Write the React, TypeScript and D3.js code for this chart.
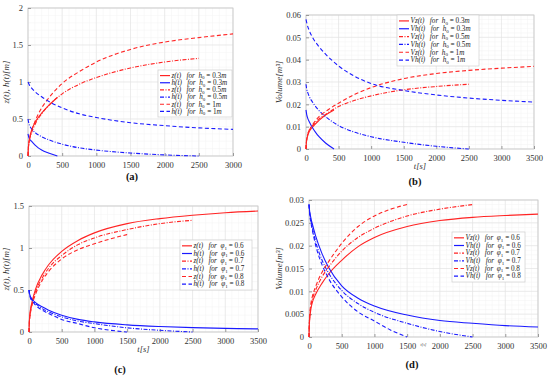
import React, { useRef, useEffect } from "react";
import * as d3 from "d3";

const RED = "#ff2424";
const BLUE = "#1a1aff";

// panel (a): heights vs time for three initial heights
const aZ03t = [0, 5, 15, 30, 50, 100, 150, 200, 300, 430];
const aZ03v = [0, 0.1, 0.19, 0.27, 0.34, 0.45, 0.52, 0.58, 0.68, 0.79];
const aH03t = [0, 10, 30, 50, 100, 150, 200, 300, 430];
const aH03v = [0.3, 0.26, 0.22, 0.2, 0.15, 0.11, 0.08, 0.04, 0];
const aZ05t = [0, 5, 15, 30, 50, 100, 200, 300, 500, 750, 1000, 1500, 2000, 2500];
const aZ05v = [0, 0.1, 0.18, 0.25, 0.31, 0.42, 0.57, 0.68, 0.84, 0.97, 1.06, 1.19, 1.27, 1.32];
const aH05t = [0, 10, 30, 50, 100, 200, 300, 500, 750, 1000, 1500, 2000, 2500];
const aH05v = [0.5, 0.45, 0.4, 0.37, 0.32, 0.26, 0.22, 0.16, 0.11, 0.08, 0.04, 0.015, 0];
const aZ1t = [0, 5, 15, 30, 50, 100, 200, 300, 500, 750, 1000, 1500, 2000, 2500, 3000];
const aZ1v = [0, 0.1, 0.19, 0.26, 0.33, 0.46, 0.65, 0.78, 0.98, 1.14, 1.27, 1.44, 1.54, 1.6, 1.65];
const aH1t = [0, 20, 50, 100, 200, 300, 500, 750, 1000, 1500, 2000, 2500, 3000];
const aH1v = [1.0, 0.96, 0.92, 0.87, 0.8, 0.74, 0.65, 0.57, 0.52, 0.45, 0.41, 0.38, 0.36];

// panel (b): volumes vs time for three initial heights
const bZ03t = [0, 5, 15, 30, 50, 100, 200, 300, 430];
const bZ03v = [0, 0.0025, 0.0045, 0.0063, 0.0078, 0.0098, 0.0128, 0.0152, 0.0175];
const bH03t = [0, 10, 30, 50, 100, 150, 200, 300, 430];
const bH03v = [0.0175, 0.0155, 0.0135, 0.0122, 0.0095, 0.0073, 0.0055, 0.0027, 0];
const bZ05t = [0, 5, 15, 30, 50, 100, 200, 300, 500, 750, 1000, 1500, 2000, 2500];
const bZ05v = [0, 0.003, 0.005, 0.007, 0.0085, 0.0105, 0.0135, 0.0155, 0.019, 0.0218, 0.0238, 0.0265, 0.028, 0.029];
const bH05t = [0, 10, 30, 50, 100, 200, 300, 500, 750, 1000, 1500, 2000, 2500];
const bH05v = [0.029, 0.027, 0.025, 0.0235, 0.021, 0.0172, 0.0145, 0.0105, 0.0075, 0.0055, 0.003, 0.0012, 0];
const bZ1t = [0, 5, 15, 30, 50, 100, 200, 300, 500, 750, 1000, 1500, 2000, 2500, 3000, 3500];
const bZ1v = [0, 0.003, 0.005, 0.0068, 0.0083, 0.0108, 0.0145, 0.0168, 0.0205, 0.0245, 0.0275, 0.0315, 0.0338, 0.0352, 0.0362, 0.037];
const bH1t = [0, 20, 50, 100, 200, 300, 500, 750, 1000, 1500, 2000, 2500, 3000, 3500];
const bH1v = [0.058, 0.0555, 0.053, 0.05, 0.0458, 0.0425, 0.0372, 0.0325, 0.0293, 0.0262, 0.0242, 0.0228, 0.0218, 0.021];

// panel (c): heights vs time for three values of phi1
const cZ6t = [0, 5, 15, 30, 50, 100, 200, 300, 500, 750, 1000, 1500, 2000, 2500, 3000, 3500];
const cZ6v = [0, 0.12, 0.22, 0.3, 0.37, 0.51, 0.68, 0.8, 0.96, 1.09, 1.18, 1.29, 1.35, 1.39, 1.42, 1.44];
const cH6t = [0, 10, 30, 50, 100, 200, 300, 500, 750, 1000, 1500, 2000, 2500, 3000, 3500];
const cH6v = [0.5, 0.45, 0.41, 0.39, 0.35, 0.3, 0.26, 0.2, 0.15, 0.12, 0.085, 0.065, 0.052, 0.043, 0.037];
const cZ7t = [0, 5, 15, 30, 50, 100, 200, 300, 500, 750, 1000, 1500, 2000, 2500];
const cZ7v = [0, 0.11, 0.2, 0.28, 0.35, 0.48, 0.64, 0.76, 0.91, 1.04, 1.12, 1.22, 1.29, 1.33];
const cH7t = [0, 10, 30, 50, 100, 200, 300, 500, 750, 1000, 1500, 2000, 2500];
const cH7v = [0.5, 0.44, 0.4, 0.38, 0.34, 0.28, 0.24, 0.18, 0.13, 0.1, 0.05, 0.02, 0];
const cZ8t = [0, 5, 15, 30, 50, 100, 200, 300, 500, 750, 1000, 1250, 1500];
const cZ8v = [0, 0.1, 0.19, 0.26, 0.33, 0.45, 0.61, 0.72, 0.87, 0.98, 1.05, 1.11, 1.16];
const cH8t = [0, 10, 30, 50, 100, 200, 300, 500, 750, 1000, 1250, 1500];
const cH8v = [0.5, 0.44, 0.39, 0.37, 0.32, 0.26, 0.22, 0.15, 0.1, 0.05, 0.02, 0];

// panel (d): volumes vs time for three values of phi1
const dZ6t = [0, 5, 15, 30, 50, 100, 200, 300, 500, 750, 1000, 1500, 2000, 2500, 3000, 3500];
const dZ6v = [0, 0.0025, 0.0045, 0.0062, 0.0075, 0.0093, 0.0118, 0.0138, 0.0168, 0.0198, 0.0218, 0.0242, 0.0255, 0.0262, 0.0266, 0.0269];
const dH6t = [0, 10, 30, 50, 100, 200, 300, 500, 750, 1000, 1500, 2000, 2500, 3000, 3500];
const dH6v = [0.029, 0.0275, 0.026, 0.0248, 0.0222, 0.0182, 0.0152, 0.0112, 0.0085, 0.0068, 0.0048, 0.0036, 0.003, 0.0025, 0.0022];
const dZ7t = [0, 5, 15, 30, 50, 100, 200, 300, 500, 750, 1000, 1500, 2000, 2500];
const dZ7v = [0, 0.0028, 0.005, 0.0068, 0.0082, 0.0102, 0.0132, 0.0153, 0.0188, 0.0218, 0.0238, 0.0265, 0.028, 0.029];
const dH7t = [0, 10, 30, 50, 100, 200, 300, 500, 750, 1000, 1500, 2000, 2500];
const dH7v = [0.029, 0.0272, 0.0255, 0.024, 0.021, 0.0168, 0.014, 0.0102, 0.0073, 0.0054, 0.003, 0.0012, 0];
const dZ8t = [0, 5, 15, 30, 50, 100, 200, 300, 500, 750, 1000, 1250, 1500];
const dZ8v = [0, 0.003, 0.0055, 0.0074, 0.0088, 0.011, 0.0142, 0.0165, 0.0205, 0.0242, 0.0265, 0.028, 0.029];
const dH8t = [0, 10, 30, 50, 100, 200, 300, 500, 750, 1000, 1250, 1500];
const dH8v = [0.029, 0.027, 0.025, 0.0235, 0.0202, 0.0158, 0.0128, 0.0088, 0.0055, 0.0035, 0.0015, 0];

const xTicks3000 = [0, 500, 1000, 1500, 2000, 2500, 3000];
const xTicks3500 = [0, 500, 1000, 1500, 2000, 2500, 3000, 3500];
const yTicksA = [0, 0.5, 1, 1.5, 2];
const yTicksB = [0, 0.01, 0.02, 0.03, 0.04, 0.05, 0.06];
const yTicksC = [0, 0.5, 1, 1.5];
const yTicksD = [0, 0.005, 0.01, 0.015, 0.02, 0.025, 0.03];

const hLabels = ["0.3", "0.5", "1"];
const phiLabels = ["0.6", "0.7", "0.8"];

const SOLID = "";
const DASHDOT = "4,1.5,1,1.5";
const DASHED = "4,2.5";
const NB = "\u00a0";

type Series = { t: number[]; v: number[]; color: string; dash: string; name: string; sym: string; sub: string; val: string; unit: string };

function makeSeries(
  list: [number[], number[]][],
  names: string[],
  sym: string,
  sub: string,
  vals: string[],
  unit: string
): Series[] {
  const dashes = [SOLID, SOLID, DASHDOT, DASHDOT, DASHED, DASHED];
  return list.map((p, i) => ({
    t: p[0],
    v: p[1],
    color: i % 2 === 0 ? RED : BLUE,
    dash: dashes[i],
    name: names[i % 2],
    sym,
    sub,
    val: vals[Math.floor(i / 2)],
    unit,
  }));
}

const panels = [
  {
    box: [28, 8, 233, 156],
    xMax: 3000, xTicks: xTicks3000, yMax: 2, yTicks: yTicksA, xMinor: 100, yMinor: 0.1,
    yFmt: (d: number) => String(d),
    series: makeSeries([[aZ03t, aZ03v], [aH03t, aH03v], [aZ05t, aZ05v], [aH05t, aH05v], [aZ1t, aZ1v], [aH1t, aH1v]], ["z(t)", "h(t)"], "h", "0", hLabels, "m"),
    legend: [158, 70, 232, 117],
    yLabel: "z(t), h(t)[m]", yLabelX: 9, xLabel: "", caption: "(a)", capX: 132, capY: 180,
  },
  {
    box: [306, 15, 534, 149],
    xMax: 3500, xTicks: xTicks3500, yMax: 0.06, yTicks: yTicksB, xMinor: 100, yMinor: 0.002,
    yFmt: (d: number) => String(+d.toFixed(2)),
    series: makeSeries([[bZ03t, bZ03v], [bH03t, bH03v], [bZ05t, bZ05v], [bH05t, bH05v], [bZ1t, bZ1v], [bH1t, bH1v]], ["Vz(t)", "Vh(t)"], "h", "0", hLabels, "m"),
    legend: [397, 15, 479, 66],
    yLabel: "Volume[m³]", yLabelX: 282, xLabel: "t[s]", xLabelY: 169, xLabelSize: 8.5, caption: "(b)", capX: 415, capY: 185,
  },
  {
    box: [29, 206, 258, 332],
    xMax: 3500, xTicks: xTicks3500, yMax: 1.5, yTicks: yTicksC, xMinor: 100, yMinor: 0.1,
    yFmt: (d: number) => String(d),
    series: makeSeries([[cZ6t, cZ6v], [cH6t, cH6v], [cZ7t, cZ7v], [cH7t, cH7v], [cZ8t, cZ8v], [cH8t, cH8v]], ["z(t)", "h(t)"], "φ", "1", phiLabels, ""),
    legend: [180, 240, 252, 290],
    yLabel: "z(t), h(t)[m]", yLabelX: 9, xLabel: "t[s]", xLabelY: 352, xLabelSize: 8.5, caption: "(c)", capX: 120, capY: 373,
  },
  {
    box: [309, 200, 538, 337],
    xMax: 3500, xTicks: xTicks3500, yMax: 0.03, yTicks: yTicksD, xMinor: 100, yMinor: 0.001,
    yFmt: (d: number) => String(+d.toFixed(3)),
    series: makeSeries([[dZ6t, dZ6v], [dH6t, dH6v], [dZ7t, dZ7v], [dH7t, dH7v], [dZ8t, dZ8v], [dH8t, dH8v]], ["Vz(t)", "Vh(t)"], "φ", "1", phiLabels, ""),
    legend: [452, 232, 525, 282],
    yLabel: "Volume[m³]", yLabelX: 282, xLabel: "t[s]", xLabelY: 346, xLabelSize: 4, caption: "(d)", capX: 412, capY: 368,
  },
];

const SERIF = "Liberation Serif";

export default function App() {
  const ref = useRef<SVGSVGElement>(null);

  useEffect(() => {
    const svg = d3.select(ref.current);
    svg.selectAll("*").remove();

    panels.forEach((p) => {
      const [x0, y0, x1, y1] = p.box;
      const x = d3.scaleLinear().domain([0, p.xMax]).range([x0, x1]);
      const y = d3.scaleLinear().domain([0, p.yMax]).range([y1, y0]);
      const g = svg.append("g");

      // minor grid
      const xm = d3.range(0, p.xMax + 1e-9, p.xMinor);
      const ym = d3.range(0, p.yMax + 1e-9, p.yMinor);
      g.selectAll(".xm").data(xm).enter().append("line")
        .attr("x1", (d) => x(d)).attr("x2", (d) => x(d)).attr("y1", y0).attr("y2", y1)
        .attr("stroke", "#f2f2f2").attr("stroke-width", 0.5);
      g.selectAll(".ym").data(ym).enter().append("line")
        .attr("x1", x0).attr("x2", x1).attr("y1", (d) => y(d)).attr("y2", (d) => y(d))
        .attr("stroke", "#f2f2f2").attr("stroke-width", 0.5);
      // major grid
      g.selectAll(".xg").data(p.xTicks).enter().append("line")
        .attr("x1", (d) => x(d)).attr("x2", (d) => x(d)).attr("y1", y0).attr("y2", y1)
        .attr("stroke", "#e2e2e2").attr("stroke-width", 0.6);
      g.selectAll(".yg").data(p.yTicks).enter().append("line")
        .attr("x1", x0).attr("x2", x1).attr("y1", (d) => y(d)).attr("y2", (d) => y(d))
        .attr("stroke", "#e2e2e2").attr("stroke-width", 0.6);

      // axes box
      g.append("rect").attr("x", x0).attr("y", y0).attr("width", x1 - x0).attr("height", y1 - y0)
        .attr("fill", "none").attr("stroke", "#c8c8c8").attr("stroke-width", 0.8);

      // ticks
      const xa = g.append("g").attr("transform", `translate(0,${y1})`)
        .call(d3.axisBottom(x).tickValues(p.xTicks).tickSize(-3).tickPadding(6).tickFormat((d) => String(d)));
      const ya = g.append("g").attr("transform", `translate(${x0},0)`)
        .call(d3.axisLeft(y).tickValues(p.yTicks).tickSize(-3).tickPadding(5).tickFormat((d) => p.yFmt(+d)));
      [xa, ya].forEach((a) => {
        a.select(".domain").remove();
        a.selectAll("line").attr("stroke", "#999");
        a.selectAll("text").attr("font-family", SERIF).attr("font-size", 8.5).attr("fill", "#333");
      });

      // curves
      const line = d3.line<[number, number]>().x((d) => x(d[0])).y((d) => y(d[1])).curve(d3.curveMonotoneX);
      p.series.forEach((s) => {
        const pts: [number, number][] = s.t.map((t, i) => [t, s.v[i]]);
        g.append("path").attr("d", line(pts) as string)
          .attr("fill", "none").attr("stroke", s.color).attr("stroke-width", 1.1)
          .attr("stroke-dasharray", s.dash || null);
      });

      // legend
      const [lx0, ly0, lx1, ly1] = p.legend;
      g.append("rect").attr("x", lx0).attr("y", ly0).attr("width", lx1 - lx0).attr("height", ly1 - ly0)
        .attr("fill", "white").attr("stroke", "#c8c8c8").attr("stroke-width", 0.6);
      const step = (ly1 - ly0 - 4) / p.series.length;
      p.series.forEach((s, i) => {
        const cy = ly0 + 2 + step * (i + 0.5);
        g.append("line").attr("x1", lx0 + 2).attr("x2", lx0 + 12).attr("y1", cy).attr("y2", cy)
          .attr("stroke", s.color).attr("stroke-width", 1.2).attr("stroke-dasharray", s.dash || null);
        const txt = g.append("text").attr("x", lx0 + 13.5).attr("y", cy + 2.3)
          .attr("font-family", SERIF).attr("font-size", 7.2).attr("fill", "#222");
        txt.append("tspan").attr("font-style", "italic").text(`${s.name}${NB}${NB}${NB}for${NB}${NB}${s.sym}`);
        txt.append("tspan").attr("font-size", 5).attr("dy", 1.5).text(s.sub);
        txt.append("tspan").attr("dy", -1.5).text(`${NB}=${NB}${s.val}`);
        if (s.unit) txt.append("tspan").attr("font-style", "italic").text(s.unit);
      });

      // labels
      g.append("text")
        .attr("transform", `translate(${p.yLabelX},${(y0 + y1) / 2}) rotate(-90)`)
        .attr("text-anchor", "middle").attr("font-family", SERIF).attr("font-size", 9)
        .attr("font-style", "italic").attr("fill", "#333")
        .text(p.yLabel);
      if (p.xLabel) {
        g.append("text").attr("x", (x0 + x1) / 2).attr("y", p.xLabelY as number)
          .attr("text-anchor", "middle").attr("font-family", SERIF).attr("font-size", p.xLabelSize as number)
          .attr("font-style", "italic").attr("fill", "#333").text(p.xLabel);
      }
      g.append("text").attr("x", p.capX).attr("y", p.capY).attr("text-anchor", "middle")
        .attr("font-family", SERIF).attr("font-size", 10.5).attr("font-weight", "bold").attr("fill", "#111")
        .text(p.caption);
    });
  }, []);

  return (
    <svg ref={ref} width={550} height={377}
      style={{ position: "absolute", left: 0, top: 0, background: "white" }} />
  );
}
